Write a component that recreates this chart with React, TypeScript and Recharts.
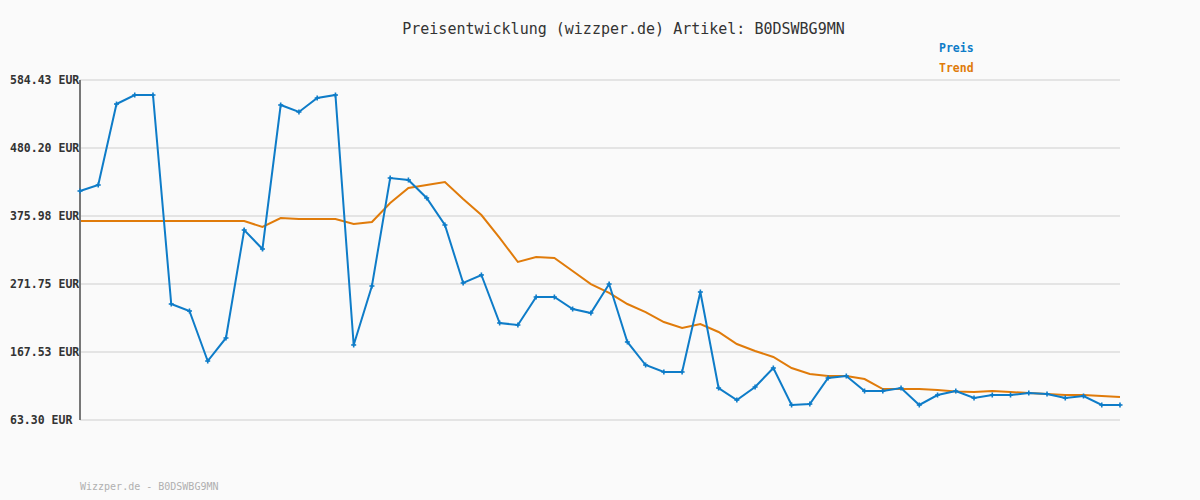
import React from "react";
import { LineChart, Line, XAxis, YAxis, CartesianGrid } from "recharts";

const preis = [
  414.3, 423.5, 547.6, 561.4, 561.4, 241.1, 230.4, 153.7, 189.0, 354.5,
  325.4, 546.1, 535.4, 556.8, 561.4, 178.3, 268.7, 434.2, 431.2, 403.6,
  362.2, 273.3, 285.6, 212.0, 208.9, 251.8, 251.8, 233.4, 227.3, 271.7,
  182.9, 147.6, 136.9, 136.9, 259.5, 112.3, 93.9, 113.9, 143.0, 86.3,
  87.8, 127.7, 130.7, 107.7, 107.7, 112.3, 86.3, 101.6, 107.7, 97.0,
  101.6, 101.6, 104.7, 103.2, 97.0, 100.1, 86.3, 86.3,
];
const trend = [
  368.3, 368.3, 368.3, 368.3, 368.3, 368.3, 368.3, 368.3, 368.3, 368.3,
  359.1, 372.9, 371.4, 371.4, 371.4, 363.7, 366.8, 395.9, 418.9, 423.5,
  428.1, 402.0, 377.5, 342.3, 305.5, 313.1, 311.6, 291.7, 271.7, 258.0,
  241.1, 228.8, 213.5, 204.3, 210.4, 198.2, 179.8, 169.1, 159.9, 143.0,
  133.8, 130.7, 130.7, 126.1, 110.8, 110.8, 110.8, 109.3, 107.0, 106.2,
  107.7, 106.2, 104.7, 103.2, 101.6, 101.6, 100.1, 98.5,
];
const yTicks = [63.3, 167.53, 271.75, 375.98, 480.2, 584.43];
const title = "Preisentwicklung (wizzper.de) Artikel: B0DSWBG9MN";
const legendPreis = "Preis";
const legendTrend = "Trend";
const footer = "Wizzper.de - B0DSWBG9MN";

const data = preis.map((p, i) => ({ i, preis: p, trend: trend[i] }));

const BLUE = "#0e7cc8";
const ORANGE = "#e07b0a";
const MONO = "'DejaVu Sans Mono', 'Liberation Mono', monospace";

const PlusDot = (props: any) => {
  const { cx, cy } = props;
  if (cx == null || cy == null) return null;
  return (
    <g>
      <line x1={cx - 2.5} y1={cy} x2={cx + 2.5} y2={cy} stroke={BLUE} strokeWidth={1.6} />
      <line x1={cx} y1={cy - 2.5} x2={cx} y2={cy + 2.5} stroke={BLUE} strokeWidth={1.6} />
    </g>
  );
};

const YTick = (props: any) => {
  const { y, payload } = props;
  return (
    <text x={10} y={y} dy={4} textAnchor="start" fontFamily={MONO} fontSize={11.5} fontWeight="bold" fill="#333">
      {payload.value.toFixed(2)} EUR
    </text>
  );
};

export default function App() {
  return (
    <div style={{ position: "fixed", left: 0, top: 0, width: 1200, height: 500, background: "#fafafa" }}>
      <div style={{ position: "absolute", left: 0, top: 20, width: 1247, textAlign: "center", fontFamily: MONO, fontSize: 15, color: "#333" }}>
        {title}
      </div>
      <div style={{ position: "absolute", left: 939, top: 41, fontFamily: MONO, fontSize: 11.5, fontWeight: "bold", color: BLUE }}>
        {legendPreis}
      </div>
      <div style={{ position: "absolute", left: 939, top: 61, fontFamily: MONO, fontSize: 11.5, fontWeight: "bold", color: ORANGE }}>
        {legendTrend}
      </div>
      <div style={{ position: "absolute", left: 80, top: 481, fontFamily: MONO, fontSize: 10, color: "#b0b0b0" }}>
        {footer}
      </div>
      <div style={{ position: "absolute", left: 0, top: 0 }}>
        <LineChart width={1200} height={500} data={data} margin={{ top: 80, right: 80, bottom: 80, left: 0 }}>
          <CartesianGrid horizontal vertical={false} stroke="#e4e4e4" strokeWidth={2} />
          <XAxis dataKey="i" type="number" domain={[0, preis.length - 1]} tick={false} tickLine={false} height={0} axisLine={{ stroke: "#777", strokeWidth: 2 }} />
          <YAxis
            type="number"
            domain={[63.3, 584.43]}
            ticks={yTicks}
            width={80}
            tick={<YTick />}
            tickLine={false}
            axisLine={{ stroke: "#777", strokeWidth: 2 }}
            interval={0}
          />
          <Line type="linear" dataKey="trend" stroke={ORANGE} strokeWidth={2} dot={false} isAnimationActive={false} />
          <Line type="linear" dataKey="preis" stroke={BLUE} strokeWidth={2} dot={<PlusDot />} isAnimationActive={false} />
        </LineChart>
      </div>
    </div>
  );
}
